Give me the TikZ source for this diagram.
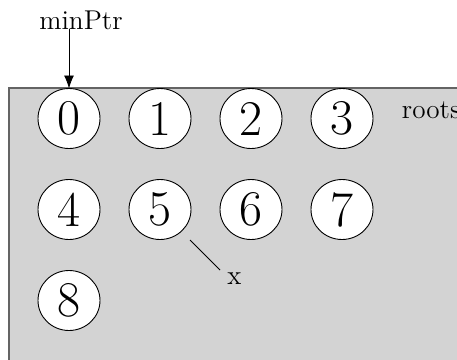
\documentclass[tikz,border=0pt]{standalone}
\usetikzlibrary{arrows.meta,shapes.geometric}
\definecolor{bgfill}{RGB}{211,211,211}
\definecolor{bgline}{RGB}{100,100,100}
\begin{document}
\begin{tikzpicture}[x=0.5pt,y=-0.5pt,
  keynode/.style={ellipse,draw=black,line width=0.45pt,fill=white,minimum width=31pt,minimum height=30pt,inner sep=0pt,font=\fontsize{25}{30}\selectfont},
  lbl/.style={font=\fontsize{13.6}{16}\selectfont,inner sep=0pt},
  ptr/.style={line width=0.45pt,-{Latex[length=6.5pt,width=5pt]}}]
\useasboundingbox (0,0) rectangle (457,360);
\fill[bgfill] (9,88) rectangle (480,380);
\draw[bgline,line width=0.8pt] (9,380) -- (9,88) -- (480,88);
\foreach \i in {0,...,8}{
  \pgfmathtruncatemacro{\c}{mod(\i,4)}
  \pgfmathtruncatemacro{\r}{\i/4}
  \node[keynode] (k\i) at ({69+91*\c},{118.5+91*\r}) {\i};
}
\node[lbl,anchor=base west] (minptr) at (39,29) {minPtr};
\node[lbl,anchor=base west] (roots) at (401.5,118) {roots};
\node[lbl,anchor=base] (xl) at (234.5,284) {x};
\coordinate (top0) at (69,88.5);
\draw[ptr] (minptr.base -| top0) -- (top0);
\coordinate (xa) at (190,240);
\coordinate (xb) at (220,270);
\draw[line width=0.45pt] (xa) -- (xb);
\end{tikzpicture}
\end{document}
